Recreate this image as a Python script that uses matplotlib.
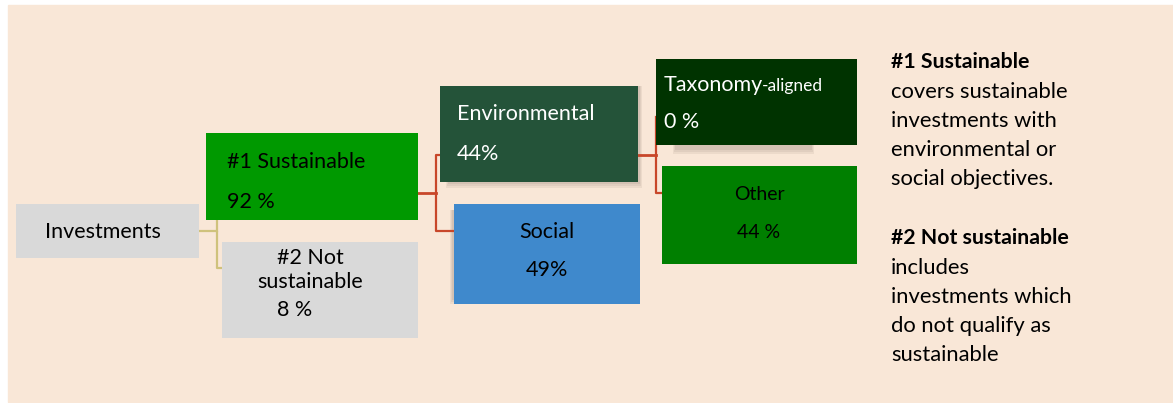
import matplotlib
matplotlib.use("Agg")
import matplotlib.pyplot as plt
from matplotlib.patches import Rectangle

# categories and shares as shown in the diagram
labels = ["Investments", "#1 Sustainable", "#2 Not\nsustainable", "Environmental",
          "Social", "Taxonomy-aligned", "Other"]
shares = [None, "92 %", "8 %", "44%", "49%", "0 %", "44 %"]
notes_bold = ["#1 Sustainable", "#2 Not sustainable"]
notes_text = [["covers sustainable", "investments with", "environmental or", "social objectives."],
              ["includes", "investments which", "do not qualify as", "sustainable"]]

W, H = 1173, 403
bg = "#F9E7D7"
font = "Lato"
fs = 15.5

fig = plt.figure(figsize=(W / 100, H / 100), dpi=100)
ax = fig.add_axes([0, 0, 1, 1])
ax.set_xlim(0, W)
ax.set_ylim(H, 0)
ax.axis("off")

ax.add_patch(Rectangle((8, 5), W - 8, 397, color=bg, zorder=0))


def box(x0, x1, y0, y1, color, shadow=None):
    if shadow is not None:
        sx0, sx1, sy0, sy1 = shadow
        for i, a in enumerate([0.10, 0.10, 0.12]):
            ax.add_patch(Rectangle((sx0 + i, sy0), sx1 - sx0 - 2 * i, sy1 - sy0 - 2 * i,
                                   color="#7a6a60", alpha=a, lw=0, zorder=1))
    ax.add_patch(Rectangle((x0, y0), x1 - x0, y1 - y0, color=color, lw=0, zorder=2))


def txt(x, y, s, color="black", size=fs, ha="left", weight="normal"):
    ax.text(x, y + 1.5, s, color=color, fontsize=size, ha=ha, va="center",
            family=font, weight=weight, zorder=3)


# connectors
yel = "#CFC27C"
red = "#C8472A"
ax.plot([199, 217, 217, 222], [231, 231, 268, 268], color=yel, lw=1.6, zorder=1.5)
ax.plot([217, 217], [220, 231], color=yel, lw=1.6, zorder=1.5)
ax.plot([418, 436], [193, 193], color=red, lw=2, zorder=1.5)
ax.plot([440, 436, 436, 454], [155, 155, 231, 231], color=red, lw=1.6, zorder=1.5)
ax.plot([638, 656], [155, 155], color=red, lw=2, zorder=1.5)
ax.plot([656, 656, 662], [117, 193, 193], color=red, lw=1.6, zorder=1.5)

# boxes
box(16, 199, 204, 258, "#D9D9D9")
box(206, 418, 133, 220, "#009900")
box(222, 418, 242, 338, "#D9D9D9")
box(440, 638, 86, 182, "#245339", shadow=(446, 642, 86, 188))
box(454, 640, 204, 304, "#3F89CC", shadow=(450, 640, 210, 304))
box(656, 857, 59, 145, "#003300", shadow=(673, 814, 60, 154))
box(662, 857, 166, 264, "#007F00")

# box texts
txt(103, 231, labels[0], ha="center")
txt(227, 160, labels[1])
txt(227, 201, shares[1])
txt(310, 256, "#2 Not", ha="center")
txt(310, 281, "sustainable", ha="center")
txt(277, 309, shares[2])
txt(457, 113, labels[3], color="white")
txt(457, 153, shares[3], color="white")
txt(547, 231, labels[4], ha="center")
txt(547, 269, shares[4], ha="center")
ax.text(664, 91, "Taxonomy", color="white", fontsize=fs, family=font, va="baseline", zorder=3)
ax.text(762, 91, "-aligned", color="white", fontsize=12.5, family=font, va="baseline", zorder=3)
txt(664, 121, shares[5], color="white")
txt(759, 193, labels[6], ha="center", size=14)
txt(759, 231, shares[6], ha="center", size=14)

# side notes
ys = [61, 237]
for k in range(2):
    txt(891, ys[k], notes_bold[k], weight="bold", size=15.3)
    for j, line in enumerate(notes_text[k]):
        txt(891, ys[k] + 29.2 * (j + 1), line, size=15.8)

fig.savefig("out.png", dpi=100, facecolor="white")
